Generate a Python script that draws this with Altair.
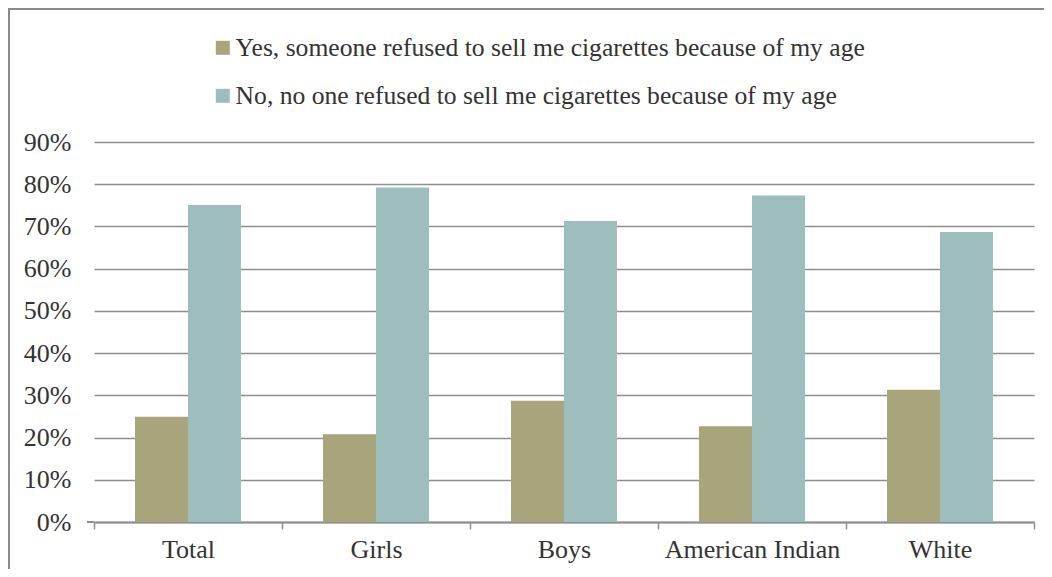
import altair as alt
import pandas as pd

categories = ["Total", "Girls", "Boys", "American Indian", "White"]
series = [
    "Yes, someone refused to sell me cigarettes because of my age",
    "No, no one refused to sell me cigarettes because of my age",
]
yes_values = [24.9, 20.8, 28.7, 22.7, 31.3]
no_values = [75.1, 79.2, 71.3, 77.3, 68.7]
colors = ["#A8A47B", "#9DBEBD"]
y_ticks = [0, 0.1, 0.2, 0.3, 0.4, 0.5, 0.6, 0.7, 0.8, 0.9]

rows = []
for c, yv, nv in zip(categories, yes_values, no_values):
    rows.append({"category": c, "series": series[0], "value": yv / 100})
    rows.append({"category": c, "series": series[1], "value": nv / 100})
df = pd.DataFrame(rows)

FONT = "Liberation Serif"
TEXT = "#333333"
GRID = "#8e8e8e"

W, H = 940, 380

bars = alt.Chart(df).mark_bar().encode(
    x=alt.X(
        "category:N",
        sort=categories,
        scale=alt.Scale(paddingInner=0, paddingOuter=0),
        axis=alt.Axis(
            title=None, labelAngle=0, tickBand="extent", ticks=True, tickSize=7,
            tickColor=GRID, tickWidth=1.5, domain=True, domainColor=GRID,
            domainWidth=2, grid=False, labelFont=FONT, labelFontSize=26,
            labelColor=TEXT, labelPadding=7,
        ),
    ),
    xOffset=alt.XOffset(
        "series:N", sort=series,
        scale=alt.Scale(paddingInner=0, paddingOuter=0.774),
    ),
    y=alt.Y(
        "value:Q",
        scale=alt.Scale(domain=[0, 0.9]),
        axis=alt.Axis(
            title=None, format="%", values=y_ticks, domain=False, ticks=False,
            grid=True, gridColor=GRID, gridWidth=1.5, labelFont=FONT,
            labelFontSize=26, labelColor=TEXT, labelPadding=23,
        ),
    ),
    color=alt.Color(
        "series:N",
        sort=series,
        scale=alt.Scale(domain=series, range=colors),
        legend=alt.Legend(
            title=None, orient="none", legendX=116, legendY=-107,
            direction="vertical", symbolType="square", symbolSize=196,
            symbolStrokeWidth=0, labelFont=FONT, labelFontSize=25.6,
            labelColor=TEXT, labelLimit=0, rowPadding=21, labelOffset=0,
        ),
    ),
)

zero_ext = alt.Chart(pd.DataFrame({"v": [0]})).mark_rule(
    color=GRID, strokeWidth=2
).encode(x=alt.value(-7), x2=alt.value(0), y=alt.Y("v:Q"))

border = alt.Chart(pd.DataFrame({"v": [0]})).mark_rect(
    fill="transparent", stroke="#8a8a8a", strokeWidth=2
).encode(
    x=alt.value(-85), x2=alt.value(1000),
    y=alt.value(-133), y2=alt.value(500),
)

chart = alt.layer(border, bars, zero_ext).properties(
    width=W, height=H,
    autosize=alt.AutoSizeParams(type="none"),
    padding={"left": 86, "top": 134, "right": 10, "bottom": 47},
    background="white",
).configure_view(stroke=None)

chart.save("out.html", embed_options={"renderer": "svg", "actions": False})
